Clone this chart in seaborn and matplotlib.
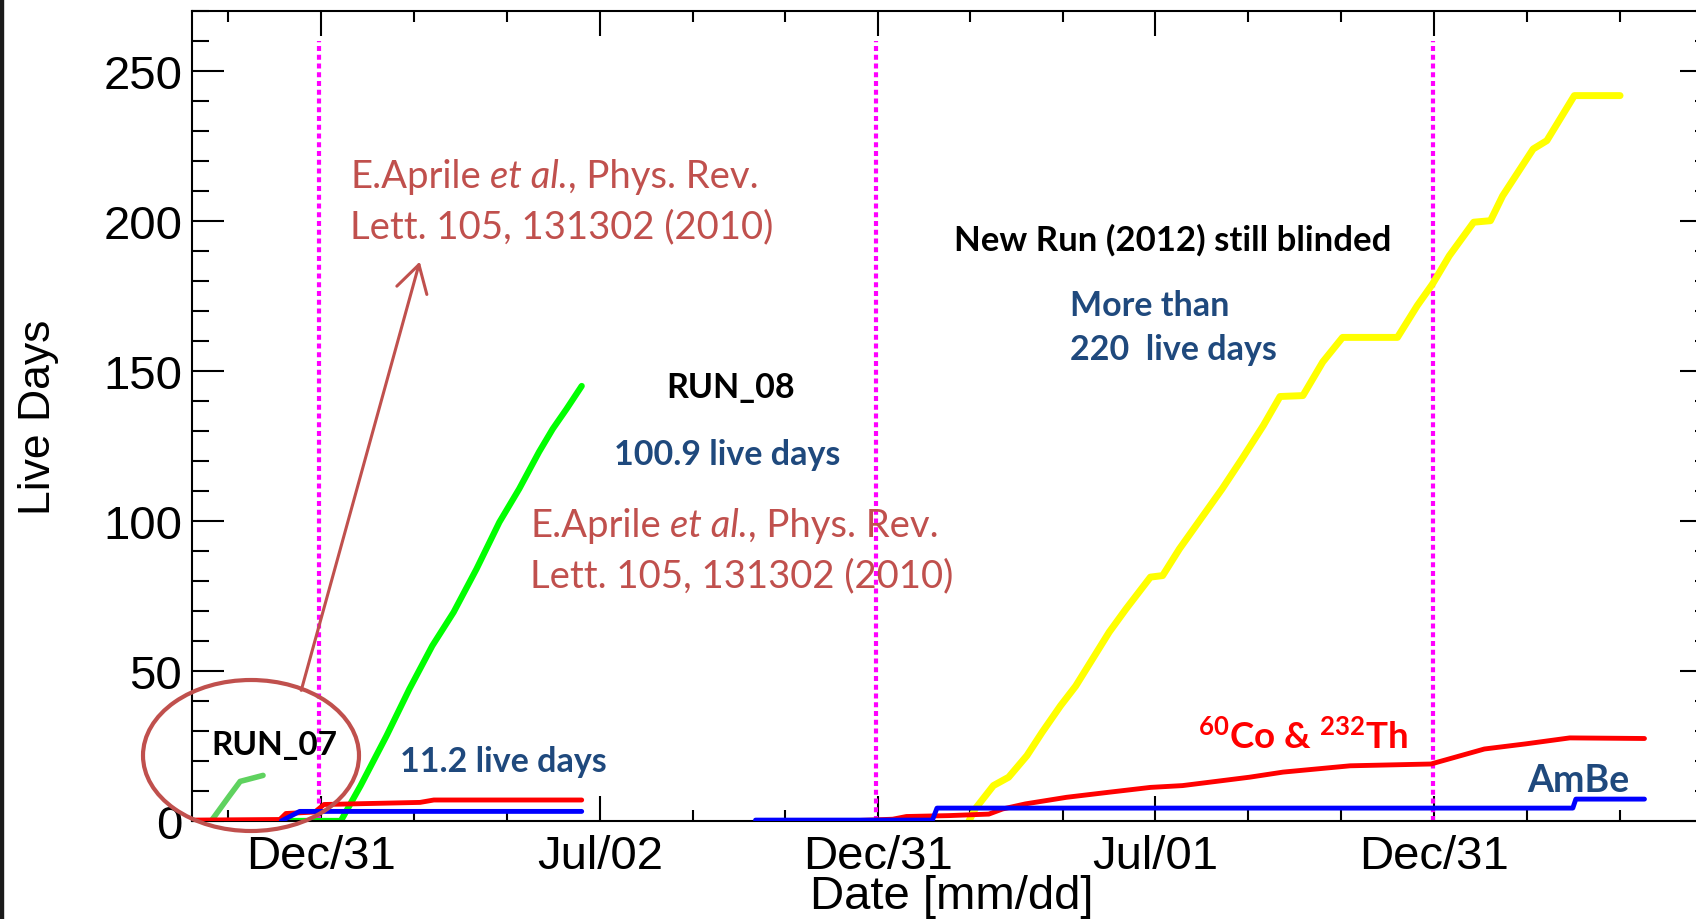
import matplotlib
matplotlib.use("Agg")
import matplotlib.pyplot as plt
from matplotlib.patches import Ellipse, Rectangle, FancyArrowPatch
from matplotlib.ticker import MultipleLocator
import seaborn as sns
import pandas as pd

# ---------------- data ----------------
run07_dates = ["2009-10-07", "2009-10-20", "2009-11-01", "2009-11-08", "2009-11-23"]
run07_days = [0, 0, 8.4, 13.2, 15.2]

run08_dates = ["2009-12-02", "2010-01-13", "2010-01-26", "2010-02-12", "2010-02-27",
               "2010-03-14", "2010-03-28", "2010-04-12", "2010-04-27", "2010-05-10",
               "2010-05-23", "2010-06-01", "2010-06-10", "2010-06-20"]
run08_days = [0, 0, 11.8, 28.4, 44, 58.4, 69.6, 84, 99.6, 110.7, 123, 130.7, 137.3, 145]

newrun_dates = ["2011-03-01", "2011-03-05", "2011-03-17", "2011-03-27", "2011-04-08",
                "2011-04-18", "2011-04-30", "2011-05-10", "2011-05-21", "2011-06-01",
                "2011-06-12", "2011-06-28", "2011-07-06", "2011-07-17", "2011-07-31",
                "2011-08-14", "2011-08-27", "2011-09-10", "2011-09-21", "2011-10-06",
                "2011-10-19", "2011-11-01", "2011-12-07", "2011-12-20", "2011-12-30",
                "2012-01-10", "2012-01-26", "2012-02-06", "2012-02-14", "2012-03-05",
                "2012-03-14", "2012-04-01", "2012-05-01"]
newrun_days = [0, 4, 11.8, 14.6, 21.8, 29.6, 38.4, 45, 54, 63, 70.7, 81.3, 81.8, 90.7,
               100.7, 110.7, 120.7, 131.8, 141.5, 141.8, 153, 161.2, 161.2, 171.8, 179,
               188.4, 199.6, 200.1, 208.4, 224, 226.8, 241.8, 241.8]

cal08_dates = ["2009-10-07", "2009-12-04", "2009-12-08", "2009-12-27", "2010-01-02",
               "2010-03-06", "2010-03-15", "2010-06-20"]
cal08_days = [0.3, 0.5, 2.5, 3.0, 5.5, 6.2, 7.0, 7.0]

cal_new_dates = ["2010-12-20", "2011-01-10", "2011-01-19", "2011-02-16", "2011-03-14",
                 "2011-03-23", "2011-04-07", "2011-05-04", "2011-06-01", "2011-06-28",
                 "2011-07-19", "2011-09-01", "2011-09-23", "2011-11-06", "2011-12-29",
                 "2012-02-02", "2012-02-29", "2012-03-29", "2012-05-17"]
cal_new_days = [0.2, 0.6, 1.5, 1.8, 2.3, 4.0, 5.7, 7.9, 9.6, 11.2, 11.8, 14.6, 16.3,
                18.4, 19.0, 24.0, 25.7, 27.7, 27.5]

ambe08_dates = ["2009-12-05", "2009-12-17", "2010-06-20"]
ambe08_days = [0, 3.2, 3.2]

ambe_new_dates = ["2010-10-12", "2011-02-05", "2011-02-08", "2012-03-31", "2012-04-02",
                  "2012-05-17"]
ambe_new_days = [0.3, 0.3, 4.3, 4.3, 7.3, 7.3]

separator_dates = ["2009-12-30", "2010-12-30", "2011-12-30"]
tick_dates = ["2009-12-31", "2010-07-02", "2010-12-31", "2011-07-01", "2011-12-31"]
tick_labels = ["Dec/31", "Jul/02", "Dec/31", "Jul/01", "Dec/31"]

# ---------------- style ----------------
sns.set_theme(style="ticks")
plt.rcParams["font.family"] = ["Liberation Sans", "DejaVu Sans"]
plt.rcParams["mathtext.fontset"] = "custom"
plt.rcParams["mathtext.rm"] = "Lato"
plt.rcParams["mathtext.it"] = "Lato:italic"
plt.rcParams["mathtext.bf"] = "Lato:bold"
plt.rcParams["axes.linewidth"] = 1.5

W, H = 1696, 920
fig = plt.figure(figsize=(W / 100, H / 100), dpi=100)
fig.patch.set_facecolor("white")
ax = fig.add_axes([192 / W, 1 - 822 / H, (1712 - 192) / W, (822 - 12) / H])
ax.set_facecolor("white")

D = pd.to_datetime

# separators
ax.vlines(D(separator_dates), 0, 260, colors="#ff00ff", linestyles=(0, (1.2, 0.9)),
          lw=3, zorder=1)

def draw(dates, vals, color, lw, z):
    sns.lineplot(x=D(dates), y=vals, ax=ax, color=color, linewidth=lw,
                 estimator=None, sort=False, zorder=z, legend=False)

draw(run07_dates, run07_days, "#5fd25f", 4.0, 2)
draw(run08_dates, run08_days, "#00ff00", 4.5, 2)
draw(newrun_dates, newrun_days, "#ffff00", 5.0, 2)
draw(cal08_dates, cal08_days, "#ff0000", 3.5, 3)
draw(cal_new_dates, cal_new_days, "#ff0000", 3.5, 3)
draw(ambe08_dates, ambe08_days, "#0000ff", 3.5, 4)
draw(ambe_new_dates, ambe_new_days, "#0000ff", 3.5, 4)

# axes
ax.set_xlim(pd.Timestamp("2009-10-07 10:00"), pd.Timestamp("2012-06-30 07:00"))
ax.set_ylim(0, 270)
major = D(tick_dates)
ax.set_xticks(major)
ax.set_xticklabels(tick_labels)
step = (major[1] - major[0]) / 3
minor = [major[0] - step]
for a, b in zip(major[:-1], major[1:]):
    s = (b - a) / 3
    minor += [a + s, a + 2 * s]
minor += [major[-1] + step, major[-1] + 2 * step]
ax.set_xticks(minor, minor=True)
ax.set_yticks([0, 50, 100, 150, 200, 250])
ax.yaxis.set_minor_locator(MultipleLocator(10))

for s in ax.spines.values():
    s.set_visible(True)
    s.set_color("black")
    s.set_linewidth(1.5)

ax.tick_params(axis="both", which="both", direction="in", top=True, right=True,
               color="black", width=1.5, labelcolor="black")
ax.tick_params(axis="y", which="major", length=23, pad=7, labelsize=34)
ax.tick_params(axis="y", which="minor", length=12)
ax.tick_params(axis="x", which="major", length=18, pad=9.5, labelsize=34)
ax.tick_params(axis="x", which="minor", length=8)

ax.set_xlabel("Date [mm/dd]", fontsize=34, color="black")
ax.xaxis.set_label_coords(0.5, -0.066)
ax.set_ylabel("Live Days", fontsize=32, color="black", va="center")
ax.yaxis.set_label_coords(-0.1007, 0.5)
ax.grid(False)

# ---------------- annotations ----------------
BROWN = "#c0504d"
NAVY = "#1f497d"

def ftext(px, py, s, **kw):
    return fig.text(px / W, 1 - py / H, s, va="baseline", ha="left", family="Lato", **kw)

def chain(px, py, pieces, **kw):
    prev = ftext(px, py, pieces[0][0], style=pieces[0][1], **kw)
    for s, st in pieces[1:]:
        prev = ax.annotate(s, xy=(1, 0), xycoords=prev, va="bottom", ha="left",
                           style=st, family="Lato", annotation_clip=False, **kw)

ref_line1 = [("E.Aprile", "normal"), (" et al.", "italic"), (", Phys. Rev.", "normal")]
ref_line2 = "Lett. 105, 131302 (2010)"
chain(350, 188, ref_line1, fontsize=27.5, color=BROWN)
ftext(350, 238, ref_line2, fontsize=27.5, color=BROWN)
chain(530, 537, ref_line1, fontsize=27.5, color=BROWN)
ftext(530, 587, ref_line2, fontsize=27.5, color=BROWN)

ftext(666, 398, "RUN_08", fontsize=24.5, color="black", weight="bold")
ftext(614, 465, "100.9 live days", fontsize=24.5, color=NAVY, weight="bold")
ftext(211, 755, "RUN_07", fontsize=24, color="black", weight="bold")
ftext(400, 772, "11.2 live days", fontsize=24.5, color=NAVY, weight="bold")
ftext(954, 251, "New Run (2012) still blinded", fontsize=25, color="black", weight="bold")
ftext(1070, 316, "More than", fontsize=24.5, color=NAVY, weight="bold")
ftext(1070, 360, "220  live days", fontsize=24.5, color=NAVY, weight="bold")
ftext(1198, 749, r"$^{\mathbf{60}}$Co & $^{\mathbf{232}}$Th", fontsize=26.5,
      color="#ff0000", weight="bold")
ftext(1527, 792, "AmBe", fontsize=27, color=NAVY, weight="bold")

ell = Ellipse((251 / W, 1 - 756.5 / H), 216 / W, 151 / H, transform=fig.transFigure,
              fill=False, edgecolor=BROWN, lw=3, zorder=10, clip_on=False)
fig.add_artist(ell)

fig.add_artist(FancyArrowPatch(
    (300.5 / W, 1 - 694 / H), (420.5 / W, 1 - 260 / H), transform=fig.transFigure,
    arrowstyle="->,head_length=0.6,head_width=0.35", mutation_scale=32,
    color=BROWN, lw=2.2))

fig.add_artist(Rectangle((0, 0), 3 / W, 1, transform=fig.transFigure,
                         color="#1a1a1a", zorder=20))

fig.savefig("out.png", dpi=100, facecolor="white")
